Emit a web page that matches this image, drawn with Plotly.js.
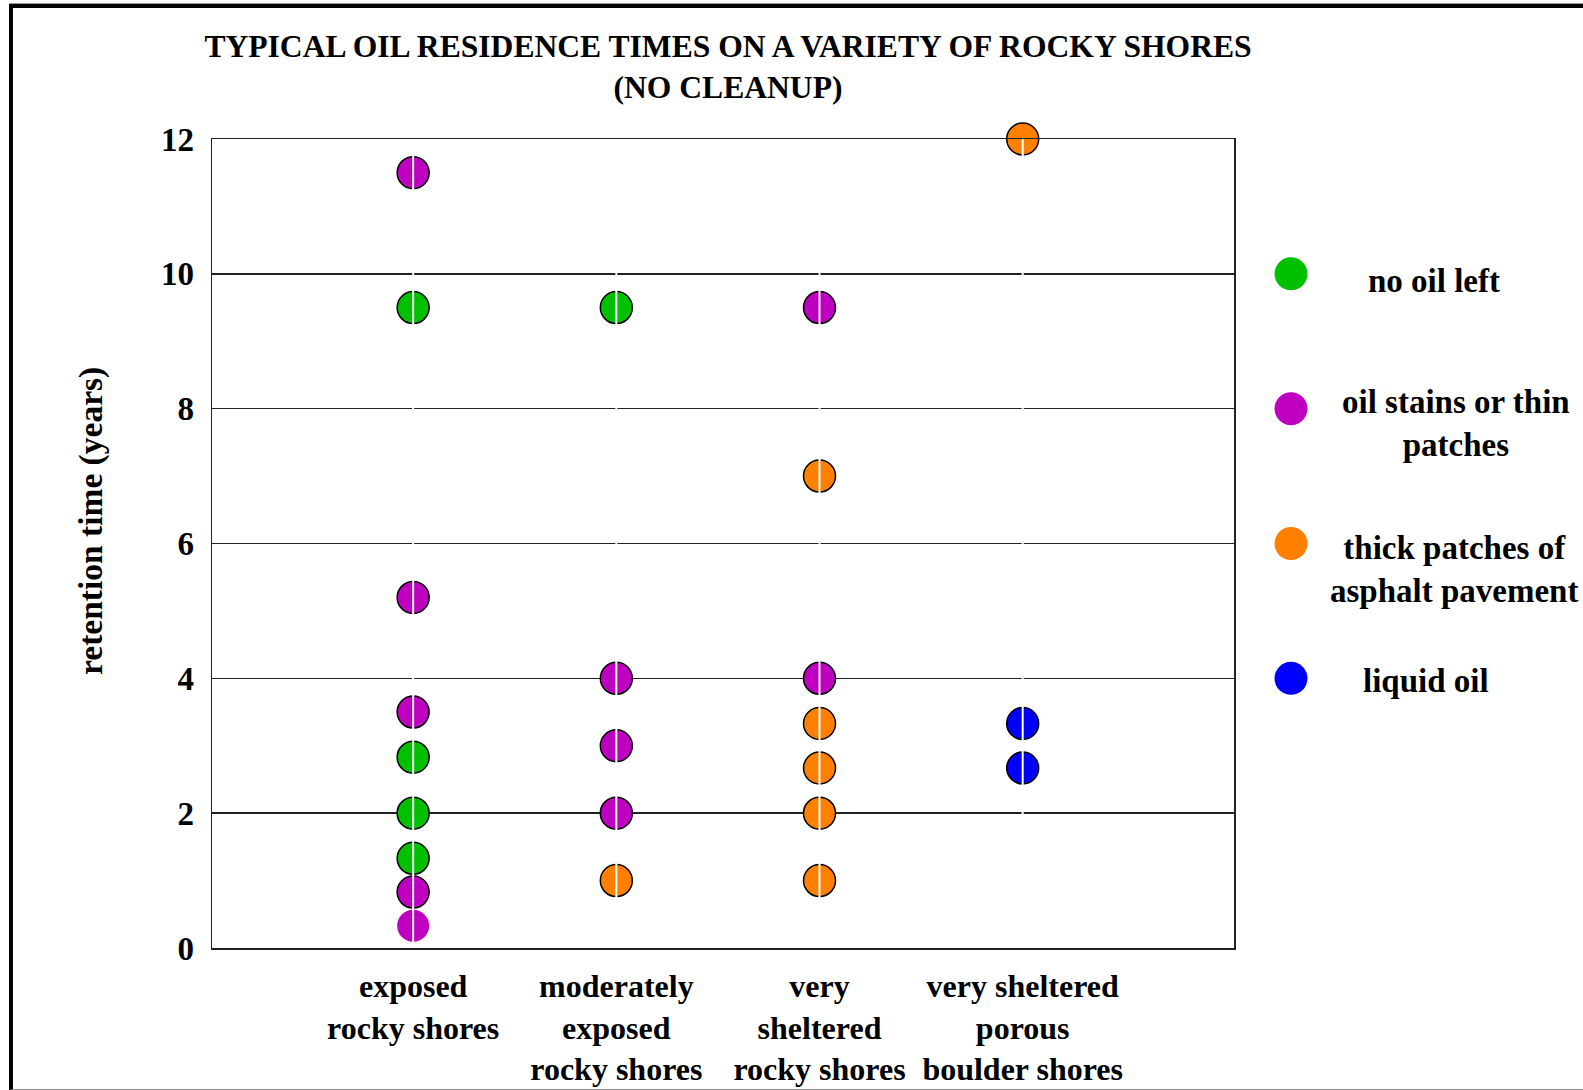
<!DOCTYPE html>
<html>
<head>
<meta charset="utf-8">
<script src="https://cdn.plot.ly/plotly-3.0.1.min.js"></script>
<style>
  html, body { margin: 0; padding: 0; background: #fff; }
  #wrap { position: relative; width: 1583px; height: 1090px; overflow: hidden; }
  #chart { width: 1583px; height: 1090px; }
  #frame { position: absolute; left: 9px; top: 4px; right: -20px; bottom: 0px;
           border-left: 4px solid #000; border-top: 4px solid #000; border-bottom: 1px solid #888;
           box-shadow: 0 -1px 0 #999; pointer-events: none; }
</style>
</head>
<body>
<div id="wrap">
  <div id="chart"></div>
  <div id="frame"></div>
</div>
<script>
// ---- data ----
const categories = [
  "exposed<br>rocky shores",
  "moderately<br>exposed<br>rocky shores",
  "very<br>sheltered<br>rocky shores",
  "very sheltered<br>porous<br>boulder shores"
];
const seriesNames = [
  "no oil left",
  "oil stains or thin<br>patches",
  "thick patches of<br>asphalt pavement",
  "liquid oil"
];
const seriesColors = ["#00C000", "#C000C0", "#FF8000", "#0000FF"];

const noOilX = [0, 0, 0, 0, 1];
const noOilY = [9.5, 2.83, 2.0, 1.33, 9.5];

const stainsX = [0, 0, 0, 0, 0, 1, 1, 1, 2, 2];
const stainsY = [11.5, 5.2, 3.5, 0.83, 0.33, 4.0, 3.0, 2.0, 9.5, 4.0];

const thickX = [1, 2, 2, 2, 2, 2, 3];
const thickY = [1.0, 7.0, 3.33, 2.67, 2.0, 1.0, 12.0];

const liquidX = [3, 3];
const liquidY = [3.33, 2.67];

const yTicks = [0, 2, 4, 6, 8, 10, 12];

const titleText = "TYPICAL OIL RESIDENCE TIMES ON A VARIETY OF ROCKY SHORES<br>(NO CLEANUP)";
const yTitleText = "retention time (years)";

// ---- chart ----
const FONT = "Liberation Serif, Times New Roman, serif";
const toCat = xs => xs.map(i => categories[i]);

function mk(xs, ys, idx, lineWidths) {
  return {
    type: "scatter", mode: "markers",
    x: toCat(xs), y: ys, name: seriesNames[idx],
    marker: { size: 32, color: seriesColors[idx],
              line: { color: "#000", width: lineWidths || 1.5 } },
    showlegend: false, cliponaxis: false, hoverinfo: "x+y"
  };
}

const traces = [
  mk(noOilX, noOilY, 0),
  mk(stainsX, stainsY, 1, [1.5, 1.5, 1.5, 1.5, 0, 1.5, 1.5, 1.5, 1.5, 1.5]),
  mk(thickX, thickY, 2),
  mk(liquidX, liquidY, 3)
];

const W = 1583, H = 1090;
const M = { l: 212, r: 349, t: 139, b: 142 };
const PW = W - M.l - M.r, PH = H - M.t - M.b;
const px2x = px => (px - M.l) / PW;
const px2y = py => (H - M.b - py) / PH;

const shapes = [];
// white vertical lines through each category
categories.forEach((c, i) => {
  shapes.push({ type: "line", xref: "x", yref: "paper", x0: i, x1: i, y0: 0, y1: 1,
                line: { color: "#fff", width: 2 }, layer: "above" });
});
// legend symbols
const legendSymY = [10, 8, 6, 4];
seriesNames.forEach((n, i) => {
  shapes.push({ type: "circle", xref: "paper", yref: "y",
                xsizemode: "pixel", ysizemode: "pixel",
                xanchor: px2x(1291), yanchor: legendSymY[i],
                x0: -16.5, x1: 16.5, y0: -16.5, y1: 16.5,
                fillcolor: seriesColors[i], line: { width: 0 } });
});

const legendTextPos = [[1434, 281], [1456, 423], [1454, 569], [1426, 681]];
const annotations = seriesNames.map((n, i) => ({
  text: n, xref: "paper", yref: "paper",
  x: px2x(legendTextPos[i][0]), y: px2y(legendTextPos[i][1]),
  xanchor: "center", yanchor: "middle", align: "center", showarrow: false,
  font: { family: FONT, size: 33, color: "#000", weight: 700 }
}));
annotations.push({
  text: yTitleText, xref: "paper", yref: "paper",
  x: px2x(91), y: px2y(521), xanchor: "center", yanchor: "middle",
  textangle: -90, showarrow: false,
  font: { family: FONT, size: 33.5, color: "#000", weight: 700 }
});

const layout = {
  width: W, height: H, margin: M,
  paper_bgcolor: "#fff", plot_bgcolor: "#fff",
  showlegend: false,
  title: { text: titleText, x: px2x(728), xref: "paper", xanchor: "center",
           y: 1 - 57 / H, yref: "container", yanchor: "top",
           font: { family: FONT, size: 31.6, color: "#000", weight: 700 } },
  xaxis: {
    type: "category", categoryorder: "array", categoryarray: categories,
    range: [-0.99, 4.04], showgrid: false, zeroline: false,
    showline: true, mirror: true, linecolor: "#222", linewidth: 1.5,
    ticks: "", ticklabelstandoff: 9,
    tickfont: { family: FONT, size: 32, color: "#000", weight: 700 }
  },
  yaxis: {
    range: [0, 12], tickvals: yTicks, ticktext: yTicks.map(String),
    showgrid: true, gridcolor: "#222", gridwidth: 1.5, zeroline: false,
    showline: true, mirror: true, linecolor: "#222", linewidth: 1.5,
    ticks: "", ticklabelstandoff: 10,
    tickfont: { family: FONT, size: 33, color: "#000", weight: 700 }
  },
  shapes: shapes,
  annotations: annotations
};

Plotly.newPlot("chart", traces, layout, { displayModeBar: false, staticPlot: true });
</script>
</body>
</html>
